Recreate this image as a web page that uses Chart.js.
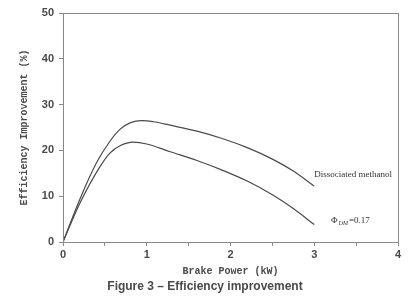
<!DOCTYPE html>
<html>
<head>
<meta charset="utf-8">
<script src="https://cdn.jsdelivr.net/npm/chart.js@4"></script>
<style>
  html, body { margin: 0; padding: 0; background: #fff; }
  #wrap { position: relative; width: 410px; height: 301px; }
  #caption {
    position: absolute; left: 0; width: 410px; top: 279px;
    text-align: center;
    font: bold 12px "Liberation Sans", Arial, sans-serif; color: #4a4a4a;
  }
</style>
</head>
<body>
<div id="wrap">
  <canvas id="chart" width="410" height="301"></canvas>
  <div id="caption">Figure 3 &ndash; Efficiency improvement</div>
</div>
<script>
// brake power (kW) and efficiency improvement (%)
const powerUpper = [0, 0.2, 0.4, 0.56, 0.68, 0.8, 0.94, 1.1, 1.28, 1.6, 1.9, 2.2, 2.5, 2.75, 3.0];
const methanol   = [0, 9.3, 17.3, 22.0, 24.6, 26.0, 26.5, 26.2, 25.5, 24.2, 22.6, 20.6, 18.1, 15.5, 12.2];

const powerLower = [0, 0.2, 0.44, 0.56, 0.68, 0.84, 1.0, 1.28, 1.6, 1.9, 2.2, 2.5, 2.75, 3.0];
const phi017     = [0, 8.4, 16.4, 19.4, 21.0, 21.8, 21.4, 19.7, 17.8, 15.7, 13.3, 10.3, 7.3, 3.8];

const xTicks = [0, 1, 2, 3, 4];
const yTicks = [0, 10, 20, 30, 40, 50];

const toPoints = (xs, ys) => xs.map((x, i) => ({ x: x, y: ys[i] }));

const ink = '#4a4a4a';

// frame + curve labels
const extras = {
  id: 'extras',
  afterDatasetsDraw(chart) {
    const { ctx, chartArea: a, scales } = chart;
    ctx.save();
    ctx.strokeStyle = '#8a8a8a';
    ctx.lineWidth = 1;
    ctx.strokeRect(a.left + 0.5, a.top + 0.5, a.right - a.left, a.bottom - a.top);

    ctx.fillStyle = '#333';
    ctx.textBaseline = 'middle';
    ctx.font = '9px "Liberation Serif", "Times New Roman", serif';
    ctx.fillText('Dissociated methanol', scales.x.getPixelForValue(3.0), scales.y.getPixelForValue(14.8));

    let x = scales.x.getPixelForValue(3.2);
    const y = scales.y.getPixelForValue(4.6);
    ctx.font = '9px "Liberation Serif", serif';
    ctx.fillText('\u03A6', x, y);
    x += ctx.measureText('\u03A6').width + 1;
    ctx.font = 'italic 6px "Liberation Serif", serif';
    ctx.fillText('DM', x, y + 2);
    x += ctx.measureText('DM').width + 1;
    ctx.font = '9px "Liberation Serif", serif';
    ctx.fillText('=0.17', x, y);
    ctx.restore();
  }
};

new Chart(document.getElementById('chart'), {
  type: 'line',
  data: {
    datasets: [
      {
        label: 'Dissociated methanol',
        data: toPoints(powerUpper, methanol),
        borderColor: ink,
        borderWidth: 1.2,
        pointRadius: 0,
        cubicInterpolationMode: 'monotone',
        fill: false,
      },
      {
        label: 'ΦDM=0.17',
        data: toPoints(powerLower, phi017),
        borderColor: ink,
        borderWidth: 1.2,
        pointRadius: 0,
        cubicInterpolationMode: 'monotone',
        fill: false,
      },
    ],
  },
  options: {
    responsive: false,
    animation: false,
    layout: { padding: { left: 0, top: 13, right: 12, bottom: 18 } },
    plugins: {
      legend: { display: false },
      tooltip: { enabled: false },
    },
    scales: {
      x: {
        type: 'linear',
        min: 0,
        max: 4,
        afterFit: (s) => { s.height = 41; },
        grid: { drawOnChartArea: false, tickLength: 4, color: '#8a8a8a' },
        border: { color: '#8a8a8a' },
        afterBuildTicks: (s) => {
          s.ticks = [];
          for (let i = 0; i <= 8; i++) s.ticks.push({ value: i / 2 });
        },
        ticks: {
          color: ink,
          padding: 2,
          maxRotation: 0,
          font: { family: '"Liberation Sans", Arial, sans-serif', size: 11, weight: 'bold' },
          callback: (v) => (xTicks.includes(v) ? String(v) : ''),
        },
        title: {
          display: true,
          text: 'Brake Power (kW)',
          color: ink,
          padding: { top: 3, bottom: 6 },
          font: { family: '"Liberation Mono", "Courier New", monospace', size: 10, weight: 'bold' },
        },
      },
      y: {
        type: 'linear',
        min: 0,
        max: 50,
        afterFit: (s) => { s.width = 63; },
        afterBuildTicks: (s) => { s.ticks = yTicks.map((v) => ({ value: v })); },
        grid: { drawOnChartArea: false, tickLength: 4, color: '#8a8a8a' },
        border: { color: '#8a8a8a' },
        ticks: {
          color: ink,
          padding: 5,
          font: { family: '"Liberation Sans", Arial, sans-serif', size: 11, weight: 'bold' },
        },
        title: {
          display: true,
          text: 'Efficiency Improvement (%)',
          color: ink,
          padding: { top: 18, bottom: 8 },
          font: { family: '"Liberation Mono", "Courier New", monospace', size: 10, weight: 'bold' },
        },
      },
    },
  },
  plugins: [extras],
});
</script>
</body>
</html>
